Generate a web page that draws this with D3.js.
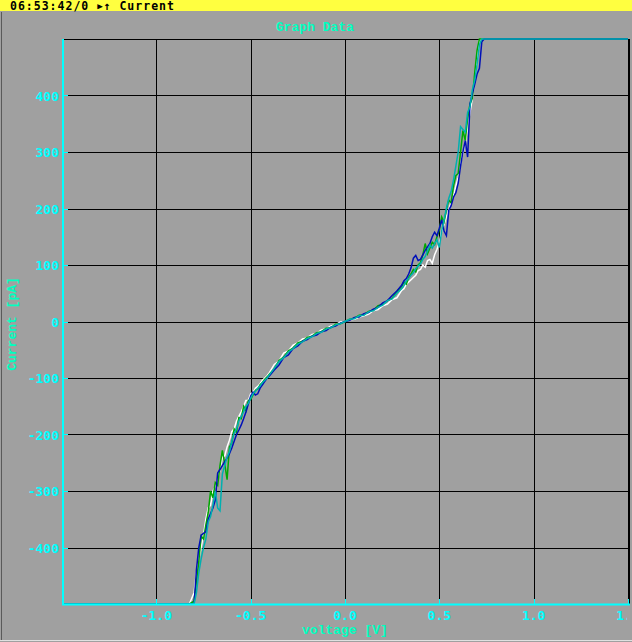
<!DOCTYPE html>
<html>
<head>
<meta charset="utf-8">
<script src="https://cdn.jsdelivr.net/npm/d3@7"></script>
<style>
  body { margin: 0; background: #a0a0a0; }
  svg { display: block; }
</style>
</head>
<body>
<div id="chart"></div>
<script>
// I-V sweep, four repeats of the same measurement
// (finer voltage steps where the curve gets steep)

var voltages = [-1.5, -0.85, -0.825,
  -0.8, -0.7875, -0.775, -0.7625, -0.75, -0.7375, -0.725, -0.7125, -0.7, -0.6875,
  -0.675, -0.6625, -0.65, -0.6375, -0.625, -0.6125, -0.6, -0.5875, -0.575, -0.5625,
  -0.55, -0.5375, -0.525, -0.5125, -0.5, -0.4875, -0.475, -0.4625, -0.45, -0.4375,
  -0.425, -0.4125, -0.4,
  -0.375, -0.35, -0.325, -0.3, -0.275, -0.25, -0.225, -0.2, -0.175, -0.15,
  -0.125, -0.1, -0.075, -0.05, -0.025, 0, 0.025, 0.05, 0.075, 0.1,
  0.125, 0.15, 0.175, 0.2, 0.225, 0.25, 0.275,
  0.3, 0.3125, 0.325, 0.3375, 0.35, 0.3625, 0.375, 0.3875, 0.4, 0.4125,
  0.425, 0.4375, 0.45, 0.4625, 0.475, 0.4875, 0.5, 0.5125, 0.525, 0.5375,
  0.55, 0.5625, 0.575, 0.5875, 0.6, 0.6125, 0.625, 0.6375, 0.65, 0.6625,
  0.675, 0.6875, 0.7, 0.7125, 0.725, 0.7375, 0.75,
  0.775, 1.5];

var currentWhite = [-1500, -640, -540,
  -480, -445, -420, -400, -378, -350, -330, -325, -300, -292,
  -280, -262, -240, -238, -222, -210, -195, -190, -176, -168,
  -160, -150, -140, -140, -128, -126, -118, -115, -110, -104,
  -100, -96, -90,
  -76, -70, -56, -52, -42, -38, -31, -29, -23, -21,
  -15, -13, -8, -6, -1, 0, 3, 4, 8, 10,
  13, 19, 21, 28, 31, 39, 42,
  55, 58, 66, 70, 74, 78, 82, 90, 92, 100,
  96, 108, 110, 103, 118, 128, 140, 160, 172, 185,
  198, 212, 222, 240, 255, 280, 298, 315, 345, 370,
  395, 432, 460, 498, 530, 560, 600,
  640, 1500];

var currentGreen = [-1500, -640, -560,
  -495, -460, -425, -380, -385, -360, -338, -300, -312, -285,
  -290, -255, -228, -252, -280, -222, -215, -190, -196, -170,
  -172, -150, -158, -140, -138, -130, -122, -120, -112, -108,
  -102, -98, -93,
  -84, -69, -63, -52, -47, -38, -35, -28, -26, -20,
  -18, -12, -11, -5, -4, 0, 4, 6, 11, 12,
  18, 20, 28, 30, 37, 41, 53,
  62, 70, 66, 78, 84, 92, 88, 100, 104, 118,
  138, 120, 130, 140, 136, 150, 162, 185, 176, 198,
  215, 210, 240, 258, 262, 300, 338, 320, 360, 385,
  395, 440, 480, 520, 545, 580, 610,
  680, 1500];

var currentBlue = [-1500, -660, -580,
  -500, -440, -400, -378, -375, -372, -350, -340, -330, -316,
  -268, -262, -255, -248, -242, -234, -224, -212, -200, -192,
  -183, -172, -160, -146, -132, -125, -130, -128, -118, -112,
  -106, -100, -96,
  -86, -77, -64, -59, -48, -43, -35, -32, -26, -24,
  -18, -16, -10, -8, -3, 0, 2, 7, 8, 14,
  16, 22, 25, 33, 37, 46, 54,
  64, 72, 76, 84, 95, 112, 117, 108, 110, 118,
  126, 132, 138, 150, 158, 152, 165, 180, 160, 152,
  197, 205, 220, 228, 245, 275, 300, 320, 291, 385,
  403, 420, 438, 448, 495, 540, 580,
  700, 1500];

var currentTeal = [-1500, -680, -600,
  -520, -480, -445, -420, -400, -385, -355, -345, -325, -300,
  -330, -335, -270, -255, -240, -230, -212, -198, -190, -176,
  -168, -160, -150, -145, -136, -128, -124, -118, -114, -108,
  -104, -100, -94,
  -83, -71, -64, -54, -48, -40, -36, -30, -27, -21,
  -19, -13, -11, -6, -4, 0, 4, 5, 10, 11,
  17, 19, 25, 29, 37, 40, 50,
  58, 64, 72, 76, 82, 86, 94, 98, 102, 110,
  115, 125, 135, 130, 138, 145, 131, 160, 180, 200,
  218, 230, 250, 275, 300, 345, 340, 335, 370, 380,
  410, 427, 455, 490, 520, 550, 590,
  670, 1500];

var xTicks = [-1.0, -0.5, 0.0, 0.5, 1.0, 1.5];
var yTicks = [-400, -300, -200, -100, 0, 100, 200, 300, 400];

(function() {
  var width = 632, height = 642;
  var plot = { left: 62, right: 628, top: 39, bottom: 604 };

  var svg = d3.select("#chart")
    .append("svg")
    .attr("width", width)
    .attr("height", height);

  svg.append("rect")
    .attr("width", width)
    .attr("height", height)
    .attr("fill", "#a0a0a0");

  // window frame
  svg.append("line")
    .attr("x1", 1.5).attr("x2", 1.5).attr("y1", 12).attr("y2", 640)
    .attr("stroke", "#5a5a5a");
  svg.append("line")
    .attr("x1", 0).attr("x2", width).attr("y1", 640.5).attr("y2", 640.5)
    .attr("stroke", "#e0e0e0");

  // status bar
  svg.append("rect")
    .attr("width", width)
    .attr("height", 11)
    .attr("fill", "#ffff40");
  var status = svg.append("text")
    .attr("x", 10)
    .attr("y", 9.5)
    .attr("font-family", "DejaVu Sans Mono")
    .attr("font-weight", "bold")
    .attr("font-size", "11.5px")
    .attr("letter-spacing", "1px")
    .attr("fill", "#000");
  status.append("tspan").text("06:53:42/0 ");
  status.append("tspan").attr("font-size", "9px").attr("dy", -0.5).text("\u25B6");
  status.append("tspan").attr("dy", 0.5).text("\u2191 Current");

  var xPositionScale = d3.scaleLinear()
    .domain([-1.5, 1.5])
    .range([plot.left, plot.right])
    .clamp(true);
  var yPositionScale = d3.scaleLinear()
    .domain([-500, 500])
    .range([plot.bottom, plot.top])
    .clamp(true);

  // grid
  svg.selectAll(".vgrid")
    .data(xTicks.filter(function(d) { return d < 1.5; }))
    .enter().append("line")
    .attr("class", "vgrid")
    .attr("x1", function(d) { return Math.round(xPositionScale(d)) + 0.5; })
    .attr("x2", function(d) { return Math.round(xPositionScale(d)) + 0.5; })
    .attr("y1", plot.top)
    .attr("y2", plot.bottom)
    .attr("stroke", "#000");

  svg.selectAll(".hgrid")
    .data(yTicks)
    .enter().append("line")
    .attr("class", "hgrid")
    .attr("x1", plot.left)
    .attr("x2", plot.right)
    .attr("y1", function(d) { return Math.round(yPositionScale(d)) + 0.5; })
    .attr("y2", function(d) { return Math.round(yPositionScale(d)) + 0.5; })
    .attr("stroke", "#000");

  svg.append("line")
    .attr("x1", plot.left).attr("x2", plot.right)
    .attr("y1", plot.top + 0.5).attr("y2", plot.top + 0.5)
    .attr("stroke", "#000");
  svg.append("line")
    .attr("x1", plot.right + 1).attr("x2", plot.right + 1)
    .attr("y1", plot.top).attr("y2", plot.bottom)
    .attr("stroke", "#000")
    .attr("stroke-width", 2);

  // data
  var series = [
    { values: currentWhite, color: "#ffffff" },
    { values: currentGreen, color: "#00a800" },
    { values: currentBlue, color: "#0010b8" },
    { values: currentTeal, color: "#00b0b0" }
  ];

  var line = d3.line()
    .x(function(d) { return xPositionScale(d[0]); })
    .y(function(d) { return yPositionScale(d[1]); });

  svg.selectAll(".trace")
    .data(series)
    .enter().append("path")
    .attr("class", "trace")
    .attr("d", function(s) {
      return line(voltages.map(function(v, i) { return [v, s.values[i]]; }));
    })
    .attr("fill", "none")
    .attr("stroke", function(s) { return s.color; })
    .attr("stroke-width", 1.5)
    .attr("stroke-linejoin", "miter");

  // axes
  var cyan = "#00ffff";
  var mono = "DejaVu Sans Mono";

  svg.append("line")
    .attr("x1", plot.left + 1).attr("x2", plot.left + 1)
    .attr("y1", plot.top).attr("y2", plot.bottom + 1)
    .attr("stroke", cyan).attr("stroke-width", 2);
  svg.append("line")
    .attr("x1", plot.left).attr("x2", plot.right + 2)
    .attr("y1", plot.bottom + 0.5).attr("y2", plot.bottom + 0.5)
    .attr("stroke", cyan).attr("stroke-width", 2);

  svg.selectAll(".ytick")
    .data(yTicks)
    .enter().append("line")
    .attr("class", "ytick")
    .attr("x1", plot.left).attr("x2", plot.left + 6)
    .attr("y1", function(d) { return Math.round(yPositionScale(d)) + 0.5; })
    .attr("y2", function(d) { return Math.round(yPositionScale(d)) + 0.5; })
    .attr("stroke", cyan);

  svg.selectAll(".ylabel")
    .data(yTicks)
    .enter().append("text")
    .attr("class", "ylabel")
    .attr("x", 59)
    .attr("y", function(d) { return yPositionScale(d) + 5; })
    .attr("text-anchor", "end")
    .attr("font-family", mono)
    .attr("font-weight", "bold")
    .attr("font-size", "13px")
    .attr("fill", cyan)
    .text(function(d) { return d; });

  svg.selectAll(".xtick")
    .data(xTicks)
    .enter().append("line")
    .attr("class", "xtick")
    .attr("x1", function(d) { return Math.round(xPositionScale(d)) + 0.5; })
    .attr("x2", function(d) { return Math.round(xPositionScale(d)) + 0.5; })
    .attr("y1", plot.bottom - 5)
    .attr("y2", plot.bottom)
    .attr("stroke", cyan);

  // the last tick label runs off the window, only its first digit shows
  svg.append("clipPath")
    .attr("id", "xclip")
    .append("rect")
    .attr("x", 0).attr("y", 0)
    .attr("width", 627).attr("height", height);

  svg.append("g")
    .attr("clip-path", "url(#xclip)")
    .selectAll(".xlabel")
    .data(xTicks)
    .enter().append("text")
    .attr("class", "xlabel")
    .attr("x", function(d) { return xPositionScale(d); })
    .attr("y", 620)
    .attr("text-anchor", "middle")
    .attr("font-family", mono)
    .attr("font-weight", "bold")
    .attr("font-size", "13px")
    .attr("fill", cyan)
    .text(function(d) { return d3.format(".1f")(d).replace("\u2212", "-"); });

  // titles
  var green = "#00ffc0";
  svg.append("text")
    .attr("x", 315)
    .attr("y", 31)
    .attr("text-anchor", "middle")
    .attr("font-family", "Liberation Mono")
    .attr("font-weight", "bold")
    .attr("font-size", "13px")
    .attr("fill", green)
    .text("Graph Data");

  svg.append("text")
    .attr("x", 345)
    .attr("y", 634)
    .attr("text-anchor", "middle")
    .attr("font-family", "Liberation Mono")
    .attr("font-weight", "bold")
    .attr("font-size", "13px")
    .attr("fill", green)
    .text("voltage [V]");

  svg.append("text")
    .attr("transform", "translate(16,324) rotate(-90)")
    .attr("text-anchor", "middle")
    .attr("font-family", "Liberation Mono")
    .attr("font-weight", "bold")
    .attr("font-size", "13px")
    .attr("fill", green)
    .text("Current [pA]");
})();
</script>
</body>
</html>
